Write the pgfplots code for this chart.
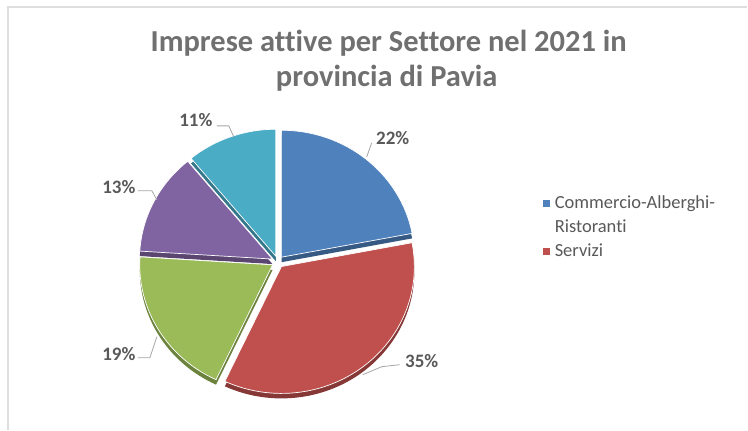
\documentclass[border=0pt]{standalone}
\usepackage{pgfplots}
\pgfplotsset{compat=1.18}
\usepackage{fontspec}
\setmainfont{Carlito}[Ligatures=NoCommon]
\definecolor{cBlue}{HTML}{4F81BD}
\definecolor{cRed}{HTML}{C0504D}
\definecolor{cGreen}{HTML}{9BBB59}
\definecolor{cPurple}{HTML}{8064A2}
\definecolor{cCyan}{HTML}{4BACC6}
\definecolor{titlegray}{HTML}{707070}
\definecolor{labgray}{HTML}{595959}
\definecolor{leadgray}{HTML}{A6A6A6}
% #1 start (percent), #2 value (percent), #3 colour, #4 explode (px)
\newcommand{\pieshadow}[4]{%
  \fill[#3!70!black] ({278+#4*sin((#1+#2/2)*3.6)},{163+#4*cos((#1+#2/2)*3.6)})
    -- ++({90-#1*3.6}:133pt and 127pt)
    arc[start angle={90-#1*3.6}, delta angle={-#2*3.6}, x radius=133pt, y radius=127pt] -- cycle;}
\newcommand{\pieslice}[4]{%
  \filldraw[fill=#3, draw=white, line width=0.7pt] ({278+#4*sin((#1+#2/2)*3.6)},{168+#4*cos((#1+#2/2)*3.6)})
    -- ++({90-#1*3.6}:133pt and 127pt)
    arc[start angle={90-#1*3.6}, delta angle={-#2*3.6}, x radius=133pt, y radius=127pt] -- cycle;}
\begin{document}
\begin{tikzpicture}
\begin{axis}[x=1pt, y=1pt, xmin=0, xmax=748, ymin=0, ymax=430,
  hide axis, clip=false, scale only axis]
\fill[white] (0,0) rectangle (748,430);
\draw[black!13, line width=1.2pt] (8,0) -- (8,423) -- (748,423);
% title
\node[anchor=base, text=titlegray, font=\fontsize{30.5}{35}\selectfont\bfseries] at (389,378) {Imprese attive per Settore nel 2021 in};
\node[anchor=base, text=titlegray, font=\fontsize{30.5}{35}\selectfont\bfseries] at (387,343) {provincia di Pavia};
% pie: shadows (depth) then faces
\pieshadow{0}{22}{cBlue}{6}
\pieshadow{22}{35}{cRed}{6}
\pieshadow{57}{19}{cGreen}{6}
\pieshadow{76}{13}{cPurple}{6}
\pieshadow{89}{11}{cCyan}{6}
\pieslice{0}{22}{cBlue}{6}
\pieslice{22}{35}{cRed}{6}
\pieslice{57}{19}{cGreen}{6}
\pieslice{76}{13}{cPurple}{6}
\pieslice{89}{11}{cCyan}{6}
% leader lines
\draw[leadgray, line width=0.8pt] (372,287) -- (367,273);
\draw[leadgray, line width=0.8pt] (217,304) -- (229,304) -- (234,293);
\draw[leadgray, line width=0.8pt] (138,239) -- (152,239) -- (157,230);
\draw[leadgray, line width=0.8pt] (138,72) -- (150,72) -- (157,93);
\draw[leadgray, line width=0.8pt] (400,65) -- (382,63) -- (363,55);
% data labels
\tikzset{lab/.style={text=labgray, font=\fontsize{19}{22}\selectfont\bfseries, inner sep=0pt}}
\node[lab] at (393,292) {22\%};
\node[lab] at (196,310) {11\%};
\node[lab] at (119,243) {13\%};
\node[lab] at (119,76) {19\%};
\node[lab] at (422,69) {35\%};
% legend
\fill[cBlue] (543,223) rectangle (550,230);
\fill[cRed] (543,175) rectangle (550,182);
\tikzset{leg/.style={text=labgray, font=\fontsize{18.5}{22}\selectfont, anchor=base west, inner sep=0pt}}
\node[leg] at (555,221) {Commercio-Alberghi-};
\node[leg] at (555,197) {Ristoranti};
\node[leg] at (555,173) {Servizi};
\end{axis}
\end{tikzpicture}
\end{document}
